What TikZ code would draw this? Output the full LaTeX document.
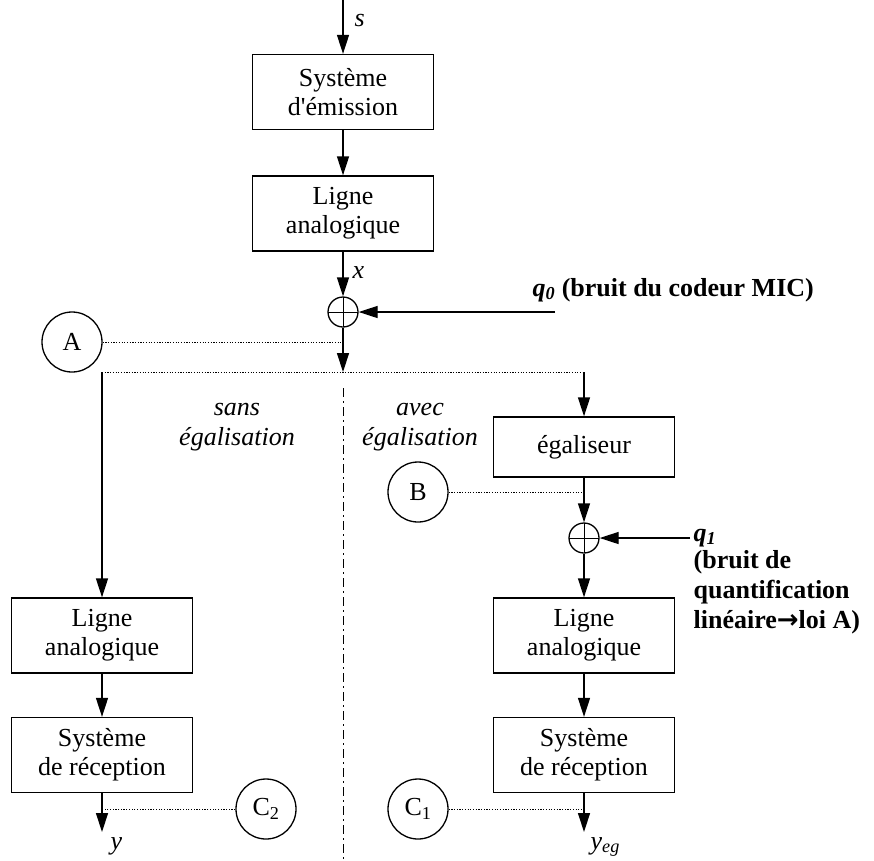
\documentclass[tikz,border=0pt]{standalone}
\usepackage{fontspec}
\setmainfont{Liberation Serif}
\newfontfamily\arrowfont{DejaVu Sans}
\usetikzlibrary{arrows.meta}

\begin{document}
\begin{tikzpicture}[x=1pt,y=-1pt,
    font=\fontsize{26}{29}\selectfont,
    line width=1.3pt,
    blk/.style={draw,minimum width=181pt,minimum height=75pt,align=center,inner sep=0pt},
    sum/.style={circle,draw,minimum size=30pt,inner sep=0pt,
      path picture={\draw[line width=1pt] (path picture bounding box.north)--(path picture bounding box.south)
        (path picture bounding box.west)--(path picture bounding box.east);}},
    pt/.style={circle,draw,minimum size=60pt,inner sep=0pt},
    lbl/.style={inner sep=0pt,anchor=base west},
    fl/.style={-{Triangle[length=19pt,width=12pt]}},
    tap/.style={line width=0.9pt,dash pattern=on 1.2pt off 1.5pt},
    sep/.style={line width=1pt,dash pattern=on 9pt off 4pt on 2pt off 4pt}]

  \useasboundingbox (0,0) rectangle (874,860);

  % chaine commune
  \node[blk] (em) at (343,92)    {Système\\d\textquotesingle émission};
  \node[blk] (la) at (343,213.5) {Ligne\\analogique};
  \node[sum] (s0) at (343,312) {};
  \node[pt]  (A)  at (72,342) {A};
  \coordinate (in)   at (343,0);
  \coordinate (q0in) at (555,312);
  \coordinate (tA)   at (343,342);
  \coordinate (br)   at (343,372);
  \coordinate (brL)  at (102,372);
  \coordinate (brR)  at (584,372);
  \coordinate (sepT) at (343,388);
  \coordinate (sepB) at (343,860);

  % avec egalisation
  \node[blk,minimum height=60pt] (eg) at (584,447) {égaliseur};
  \node[pt]  (B)   at (418,492) {B};
  \node[sum] (s1)  at (584,538) {};
  \node[blk] (laR) at (584,635.5) {Ligne\\analogique};
  \node[blk] (rxR) at (584,755)   {Système\\de réception};
  \node[pt]  (C1)  at (418,809) {C\textsubscript{1}};
  \coordinate (tB)   at (584,492);
  \coordinate (q1in) at (690,538);
  \coordinate (tC1)  at (584,809);
  \coordinate (outR) at (584,832);

  % sans egalisation
  \node[blk] (laL) at (102,635.5) {Ligne\\analogique};
  \node[blk] (rxL) at (102,755)   {Système\\de réception};
  \node[pt]  (C2)  at (266,809) {C\textsubscript{2}};
  \coordinate (tC2)  at (102,809);
  \coordinate (outL) at (102,832);

  % fleches
  \draw[fl] (in) -- (em);
  \foreach \a/\b in {em/la,la/s0,eg/s1,s1/laR,laR/rxR,laL/rxL}
    \draw[fl] (\a) -- (\b);
  \draw[fl] (s0) -- (br);
  \draw[fl] (q0in) -- (s0);
  \draw[fl] (q1in) -- (s1);
  \draw[fl] (brR) -- (eg);
  \draw[fl] (brL) -- (laL);
  \draw[fl] (rxL) -- (outL);
  \draw[fl] (rxR) -- (outR);

  % points de mesure
  \draw[tap] (brL) -- (brR);
  \foreach \a/\b in {A/tA,B/tB,C2/tC2,C1/tC1}
    \draw[tap] (\a) -- (\b);
  \draw[sep] (sepT) -- (sepB);

  % textes
  \node[lbl] (ls) at (354,26)  {\textit{s}};
  \node[lbl] (lx) at (352,278) {\textit{x}};
  \node[lbl] (lq0) at (532,296) {\textbf{\textit{q\textsubscript{0}}} \textbf{(bruit du codeur MIC)}};
  \node[lbl,font=\fontsize{26}{30}\selectfont\bfseries] (lq1) at (693,541)
    {\begin{tabular}[t]{@{}l@{}}\textit{q\textsubscript{1}}\\[-3pt](bruit de\\quantification\\linéaire{\arrowfont\bfseries →}loi A)\end{tabular}};
  \node[align=center,font=\fontsize{26}{30}\selectfont\itshape] (sans) at (237,427) {sans\\égalisation};
  \node[align=center,font=\fontsize{26}{30}\selectfont\itshape] (avec) at (420,427) {avec\\égalisation};
  \node[lbl] (ly)   at (110,849) {\textit{y}};
  \node[lbl] (lyeg) at (590,849) {\textit{y}\textsubscript{\textit{eg}}};
\end{tikzpicture}
\end{document}
